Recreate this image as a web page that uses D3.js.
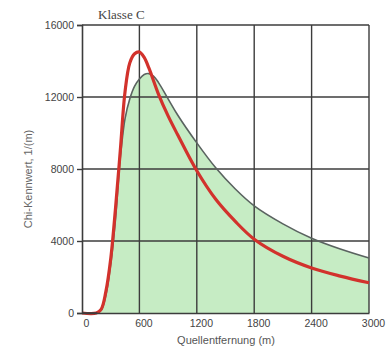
<!DOCTYPE html>
<html>
<head>
<meta charset="utf-8">
<script src="https://cdn.jsdelivr.net/npm/d3@7"></script>
<style>
  body { margin: 0; background: #fff; }
</style>
</head>
<body>
<div id="chart"></div>
<script>
let width = 388,
    height = 355,
    margin = ({ top: 25, right: 19, bottom: 42, left: 82 });

// distances (m) and values
const redDist = [0, 150, 200, 250, 300, 350, 400, 450, 500, 550, 600, 650, 700, 800, 900, 1000, 1200, 1400, 1600, 1800, 2100, 2400, 2700, 3000];
const redVal  = [0, 0, 200, 1200, 3000, 5800, 9000, 12300, 13900, 14400, 14500, 14200, 13600, 12150, 10950, 9900, 7900, 6300, 5100, 4100, 3150, 2500, 2050, 1680];

const greenDist = [0, 150, 200, 250, 300, 350, 400, 450, 500, 550, 600, 650, 700, 750, 800, 900, 1000, 1200, 1400, 1600, 1800, 2100, 2400, 2700, 3000];
const greenVal  = [0, 0, 150, 1000, 2700, 5200, 8600, 10800, 11900, 12600, 13000, 13250, 13300, 13150, 12800, 11900, 11000, 9450, 8050, 6900, 5950, 4950, 4150, 3550, 3050];

const xTicks = [0, 600, 1200, 1800, 2400, 3000];
const yTicks = [0, 4000, 8000, 12000, 16000];

const title = "Klasse C";
const xTitle = "Quellentfernung (m)";
const yTitle = "Chi-Kennwert, 1/(m)";

const svg = d3.select("#chart")
  .append("svg")
  .attr("width", width)
  .attr("height", height);

let x = d3.scaleLinear()
  .domain([0, 3000])
  .range([margin.left, width - margin.right]);

let y = d3.scaleLinear()
  .domain([0, 16000])
  .range([height - margin.bottom, margin.top]);

let green = greenDist.map((d, i) => ({ d: d, v: greenVal[i] }));
let red = redDist.map((d, i) => ({ d: d, v: redVal[i] }));

let curve = d3.curveCatmullRom.alpha(0.5);

// green area
svg.append("path")
  .datum(green)
  .attr("fill", "#c6ecc4")
  .attr("d", d3.area().curve(curve).x(d => x(d.d)).y0(y(0)).y1(d => y(Math.max(0, d.v))));

// grid
svg.append("g")
  .selectAll("line")
  .data(xTicks.slice(1))
  .join("line")
  .attr("x1", d => x(d)).attr("x2", d => x(d))
  .attr("y1", y(0)).attr("y2", y(16000))
  .attr("stroke", "#3c3c3c")
  .attr("stroke-width", 1.4);

svg.append("g")
  .selectAll("line")
  .data(yTicks.slice(1))
  .join("line")
  .attr("x1", x(0)).attr("x2", x(3000))
  .attr("y1", d => y(d)).attr("y2", d => y(d))
  .attr("stroke", "#3c3c3c")
  .attr("stroke-width", 1.4);

// green outline
svg.append("path")
  .datum(green)
  .attr("fill", "none")
  .attr("stroke", "#5a6360")
  .attr("stroke-width", 1.6)
  .attr("d", d3.line().curve(curve).x(d => x(d.d)).y(d => y(d.v)));

// red line
svg.append("path")
  .datum(red)
  .attr("fill", "none")
  .attr("stroke", "#d2322c")
  .attr("stroke-width", 3.2)
  .attr("stroke-linejoin", "round")
  .attr("d", d3.line().curve(curve).x(d => x(d.d)).y(d => y(d.v)));

// baseline foot
svg.append("line")
  .attr("x1", x(0)).attr("x2", x(160))
  .attr("y1", y(0)).attr("y2", y(0))
  .attr("stroke", "#3c3c3c")
  .attr("stroke-width", 1.6);

// axes
let yAxis = svg.append("g")
  .attr("transform", `translate(${x(0)},0)`)
  .call(d3.axisLeft(y).tickValues(yTicks).tickSize(5).tickPadding(3).tickFormat(d => d));

let xAxis = svg.append("g")
  .attr("transform", `translate(0,${y(0)})`)
  .call(d3.axisBottom(x).tickValues(xTicks).tickSize(0).tickPadding(7).tickFormat(d => d));

for (let g of [xAxis, yAxis]) {
  g.select(".domain").attr("stroke", "#3c3c3c").attr("stroke-width", 1.6);
  g.selectAll(".tick line").attr("stroke", "#3c3c3c").attr("stroke-width", 1.4);
  g.selectAll(".tick text")
    .attr("font-family", "Liberation Sans, Arial, sans-serif")
    .attr("font-size", 10.5)
    .attr("fill", "#444");
}
xAxis.selectAll(".tick text").attr("dx", 4);

svg.append("text")
  .attr("x", 98)
  .attr("y", 19)
  .attr("font-family", "Liberation Serif, serif")
  .attr("font-size", 13)
  .attr("fill", "#444")
  .text(title);

svg.append("text")
  .attr("x", 226)
  .attr("y", 344)
  .attr("text-anchor", "middle")
  .attr("font-family", "Liberation Sans, Arial, sans-serif")
  .attr("font-size", 11)
  .attr("fill", "#555")
  .text(xTitle);

svg.append("text")
  .attr("transform", `translate(32,${y(8000) + 10}) rotate(-90)`)
  .attr("text-anchor", "middle")
  .attr("font-family", "Liberation Sans, Arial, sans-serif")
  .attr("font-size", 11)
  .attr("fill", "#666")
  .text(yTitle);
</script>
</body>
</html>
